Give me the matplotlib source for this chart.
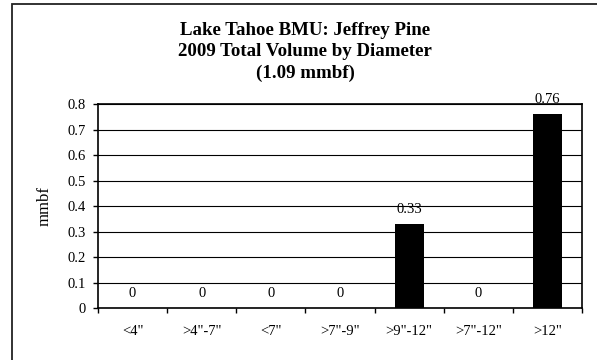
import matplotlib
matplotlib.use('Agg')
import matplotlib.pyplot as plt
from matplotlib.patches import Rectangle

# Chart data
CATEGORIES = ['<4"', '>4"-7"', '<7"', '>7"-9"', '>9"-12"', '>7"-12"', '>12"']
VOLUMES = [0, 0, 0, 0, 0.33, 0, 0.76]
VALUE_LABELS = ['0', '0', '0', '0', '0.33', '0', '0.76']
Y_TICKS = [0, 0.1, 0.2, 0.3, 0.4, 0.5, 0.6, 0.7, 0.8]
Y_TICK_LABELS = ['0', '0.1', '0.2', '0.3', '0.4', '0.5', '0.6', '0.7', '0.8']
TITLE = 'Lake Tahoe BMU: Jeffrey Pine\n2009 Total Volume by Diameter\n(1.09 mmbf)'

plt.rcParams['font.family'] = ['Liberation Serif', 'DejaVu Serif']

fig = plt.figure(figsize=(5.97, 3.60), dpi=100)

# outer chart frame (only left and top edges fall inside the picture)
fig.patches.append(Rectangle((12 / 597, -0.1), 1.0, (360 - 4) / 360 + 0.1,
                             transform=fig.transFigure, fill=False,
                             edgecolor='#222222', linewidth=1.3))

ax = fig.add_axes([98 / 597, 52 / 360, (582 - 98) / 597, (308 - 104) / 360])

x = range(len(CATEGORIES))
bars = ax.bar(x, VOLUMES, width=0.42, color='black', zorder=3)

for xi, v, lab in zip(x, VOLUMES, VALUE_LABELS):
    ax.annotate(lab, (xi, v), xytext=(0, 6), textcoords='offset points',
                ha='center', va='bottom', fontsize=10.5)

ax.set_xlim(-0.5, len(CATEGORIES) - 0.5)
ax.set_ylim(0, 0.8)
ax.set_yticks(Y_TICKS)
ax.set_yticklabels(Y_TICK_LABELS, fontsize=10.5)
ax.yaxis.grid(True, color='black', linewidth=0.8, zorder=0)

# category labels centered, tick marks at boundaries
ax.set_xticks([i + 0.5 for i in range(-1, len(CATEGORIES))])
ax.set_xticklabels([''] * (len(CATEGORIES) + 1))
ax.set_xticks(list(x), minor=True)
ax.set_xticklabels(CATEGORIES, minor=True, fontsize=10.5)
ax.tick_params(axis='x', which='minor', length=0, pad=12)
ax.tick_params(axis='x', which='major', length=3.5, direction='out', width=1)
ax.tick_params(axis='y', length=3.5, direction='out', width=1, pad=5)

for s in ax.spines.values():
    s.set_color('black')
    s.set_linewidth(1.2)

ax.set_ylabel('mmbf', fontsize=12, labelpad=11)
fig.text(305 / 597, 1 - 52 / 360, TITLE, ha='center', va='center',
         fontsize=13.6, fontweight='bold', linespacing=1.35)

fig.savefig('out.png', dpi=100)
